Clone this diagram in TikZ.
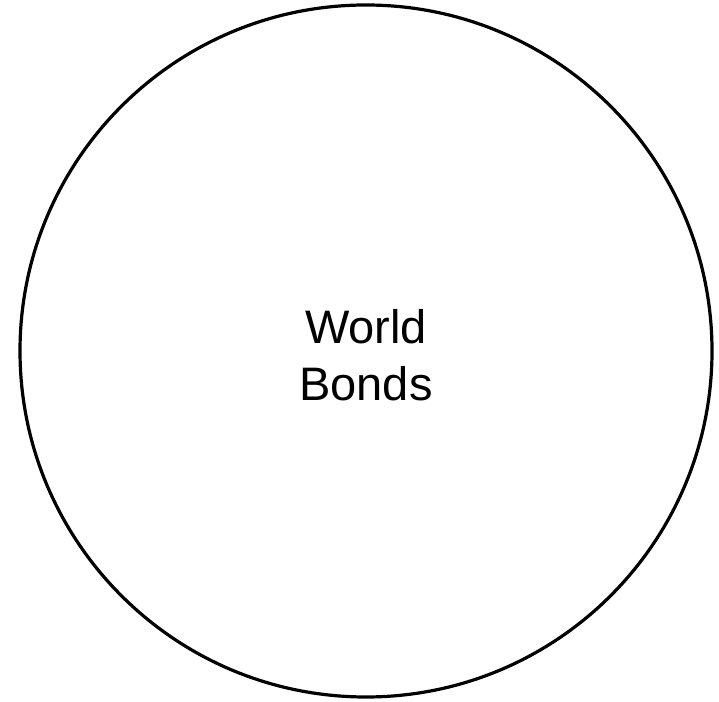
\documentclass[tikz,border=0pt]{standalone}
\usepackage{fontspec}
\setmainfont{Liberation Sans}
\usetikzlibrary{positioning}

\begin{document}
\begin{tikzpicture}[x=1pt, y=1pt]
    % Fix the page size
    \useasboundingbox (0, 0) rectangle (719, 701);

    % Define coordinates
    \coordinate (Centre) at (366, 350);

    % Draw the outer circle
    \draw[black, line width=3.2pt] (Centre) circle (346);

    % Label
    \node[align=center, font=\fontsize{47}{57}\selectfont, yshift=-4] (Label) at (Centre) {World\\Bonds};
\end{tikzpicture}
\end{document}
